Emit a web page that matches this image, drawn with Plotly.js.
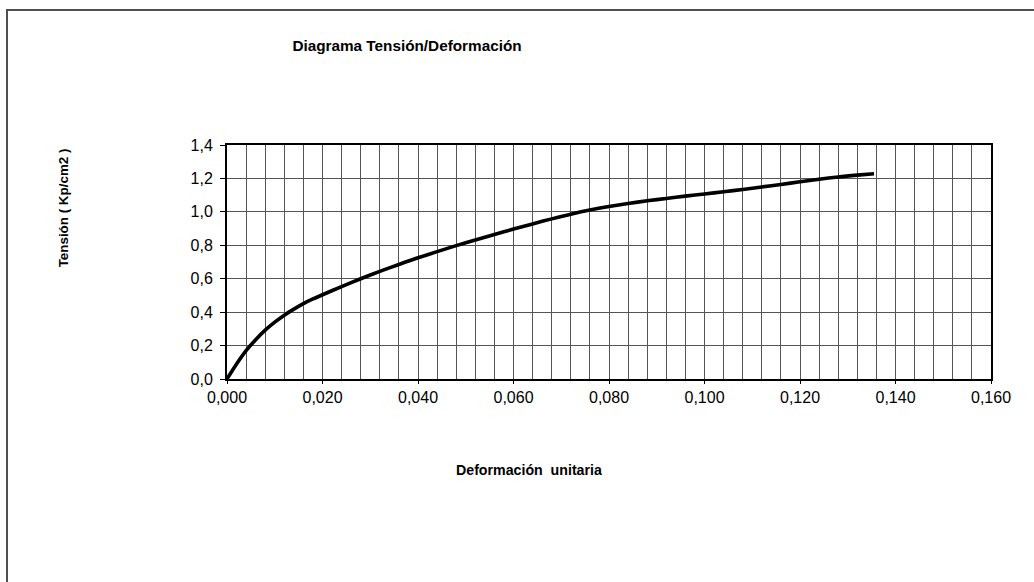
<!DOCTYPE html>
<html>
<head>
<meta charset="utf-8">
<script src="https://cdn.plot.ly/plotly-3.0.1.min.js"></script>
<style>
  html, body { margin: 0; padding: 0; background: #ffffff; }
  #wrap { position: relative; width: 1034px; height: 582px; overflow: hidden; }
  #chart { position: absolute; left: 0; top: 0; width: 1034px; height: 582px; }
  #frame { position: absolute; left: 6px; top: 9px; width: 1100px; height: 700px;
           border-top: 2px solid #505050; border-left: 2px solid #505050; pointer-events: none; }
</style>
</head>
<body>
<div id="wrap">
  <div id="chart"></div>
  <div id="frame"></div>
</div>
<script>
// Deformación unitaria (strain)
const strain = [0, 0.002, 0.004, 0.006, 0.008, 0.010, 0.012, 0.014, 0.016, 0.018,
                0.020, 0.024, 0.028, 0.032, 0.036, 0.040, 0.044, 0.048, 0.052, 0.056,
                0.060, 0.064, 0.068, 0.072, 0.076, 0.080, 0.084, 0.088, 0.092, 0.096,
                0.100, 0.104, 0.108, 0.112, 0.116, 0.120, 0.124, 0.128, 0.132, 0.1355];
// Tensión (Kp/cm2)
const stress = [0, 0.09, 0.17, 0.235, 0.292, 0.34, 0.382, 0.418, 0.451, 0.479,
                0.504, 0.553, 0.600, 0.644, 0.685, 0.725, 0.762, 0.798, 0.832, 0.865,
                0.897, 0.928, 0.958, 0.986, 1.011, 1.032, 1.050, 1.066, 1.080, 1.094,
                1.107, 1.120, 1.134, 1.149, 1.164, 1.180, 1.195, 1.209, 1.220, 1.228];

const chartTitle = 'Diagrama Tensión/Deformación';
const xTitle = 'Deformación  unitaria';
const yTitle = 'Tensión ( Kp/cm2 )';

const FONT = '"Liberation Sans", Arial, sans-serif';

const trace = {
  x: strain,
  y: stress,
  type: 'scatter',
  mode: 'lines',
  line: { color: '#000000', width: 3.6, shape: 'spline', smoothing: 0.7 },
  hoverinfo: 'x+y'
};

const layout = {
  width: 1034,
  height: 582,
  margin: { l: 227, r: 43, t: 145, b: 203, pad: 0 },
  paper_bgcolor: '#ffffff',
  plot_bgcolor: '#ffffff',
  separators: ',.',
  showlegend: false,
  font: { family: FONT, size: 16, color: '#000000' },
  title: {
    text: chartTitle,
    font: { family: FONT, size: 15.3, color: '#000000', weight: 'bold' },
    xref: 'paper', x: 0.2356, xanchor: 'center',
    yref: 'container', y: 1 - 46 / 582, yanchor: 'middle'
  },
  xaxis: {
    range: [0, 0.16],
    dtick: 0.02,
    tick0: 0,
    tickformat: '.3f',
    ticks: 'outside',
    ticklen: 3,
    tickwidth: 1,
    tickcolor: '#000000',
    showgrid: true,
    gridcolor: '#555555',
    gridwidth: 1,
    minor: { dtick: 0.004, showgrid: true, gridcolor: '#555555', gridwidth: 1, ticks: '' },
    showline: true,
    linecolor: '#000000',
    linewidth: 2,
    mirror: true,
    zeroline: false,
    tickfont: { family: FONT, size: 16, color: '#000000' },
    fixedrange: true
  },
  yaxis: {
    range: [0, 1.4],
    dtick: 0.2,
    tick0: 0,
    tickformat: '.1f',
    ticks: 'outside',
    ticklen: 5,
    tickwidth: 1,
    tickcolor: '#000000',
    ticklabelstandoff: 4,
    showgrid: true,
    gridcolor: '#555555',
    gridwidth: 1,
    showline: true,
    linecolor: '#000000',
    linewidth: 2,
    mirror: true,
    zeroline: false,
    tickfont: { family: FONT, size: 16, color: '#000000' },
    fixedrange: true
  },
  annotations: [
    {
      text: xTitle,
      xref: 'paper', yref: 'paper',
      x: (528.5 - 227) / 764, y: (379 - 470) / 234.5,
      xanchor: 'center', yanchor: 'middle',
      showarrow: false,
      font: { family: FONT, size: 14.2, color: '#000000', weight: 'bold' }
    },
    {
      text: yTitle,
      xref: 'paper', yref: 'paper',
      x: (63 - 227) / 764, y: (379 - 208) / 234.5,
      xanchor: 'center', yanchor: 'middle',
      textangle: -90,
      showarrow: false,
      font: { family: FONT, size: 13.4, color: '#000000', weight: 'bold' }
    }
  ]
};

Plotly.newPlot('chart', [trace], layout, { staticPlot: true, displayModeBar: false });
</script>
</body>
</html>
